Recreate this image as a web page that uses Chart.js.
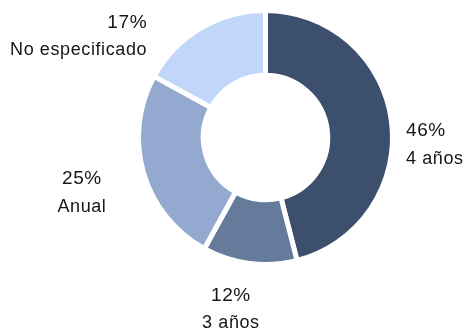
<!DOCTYPE html>
<html>
<head>
<meta charset="utf-8">
<script src="https://cdn.jsdelivr.net/npm/chart.js@4.4.1/dist/chart.umd.min.js"></script>
<style>
  html, body { margin: 0; padding: 0; background: #ffffff; }
  #wrap { width: 464px; height: 330px; }
</style>
</head>
<body>
<div id="wrap"><canvas id="c" width="464" height="330"></canvas></div>
<script>
// Duración de los programas
const categories = ['4 años', '3 años', 'Anual', 'No especificado'];
const shares = [46, 12, 25, 17];
const sliceColors = ['#3c4f6d', '#667a9c', '#94a9cf', '#c1d6f9'];

// Placement of each outside label relative to the outer edge of its slice
const labelPlacement = [
  { align: 'left',   dx: 17,  dy: 23 },
  { align: 'center', dx: -19, dy: 48.5 },
  { align: 'center', dx: -64, dy: 21 },
  { align: 'right',  dx: -55, dy: 6 }
];

const outsideLabels = {
  id: 'outsideLabels',
  afterDatasetsDraw(chart) {
    const ctx = chart.ctx;
    const meta = chart.getDatasetMeta(0);
    const ds = chart.data.datasets[0];
    const bw = ds.borderWidth || 0;
    ctx.save();
    ctx.fillStyle = '#161616';
    ctx.textBaseline = 'middle';
    if ('letterSpacing' in ctx) ctx.letterSpacing = '0.6px';
    meta.data.forEach((arc, i) => {
      const p = arc.getProps(['x', 'y', 'startAngle', 'endAngle', 'outerRadius'], true);
      const mid = (p.startAngle + p.endAngle) / 2;
      const r = p.outerRadius - bw / 2;
      const pl = labelPlacement[i];
      const ax = p.x + Math.cos(mid) * r + pl.dx;
      const ay = p.y + Math.sin(mid) * r + pl.dy;
      ctx.textAlign = pl.align;
      ctx.font = '19px "Liberation Sans", Arial, sans-serif';
      ctx.fillText(ds.data[i] + '%', ax, ay - 14);
      ctx.font = '18px "Liberation Sans", Arial, sans-serif';
      ctx.fillText(chart.data.labels[i], ax, ay + 14);
    });
    ctx.restore();
  }
};

new Chart(document.getElementById('c'), {
  type: 'doughnut',
  data: {
    labels: categories,
    datasets: [{
      data: shares,
      backgroundColor: sliceColors,
      borderColor: '#ffffff',
      borderWidth: 5,
      hoverOffset: 0
    }]
  },
  options: {
    responsive: false,
    animation: false,
    cutout: '49%',
    rotation: 0,
    layout: { padding: { top: 8, bottom: 63, left: 136, right: 69 } },
    plugins: {
      legend: { display: false },
      tooltip: { enabled: false }
    }
  },
  plugins: [outsideLabels]
});
</script>
</body>
</html>
